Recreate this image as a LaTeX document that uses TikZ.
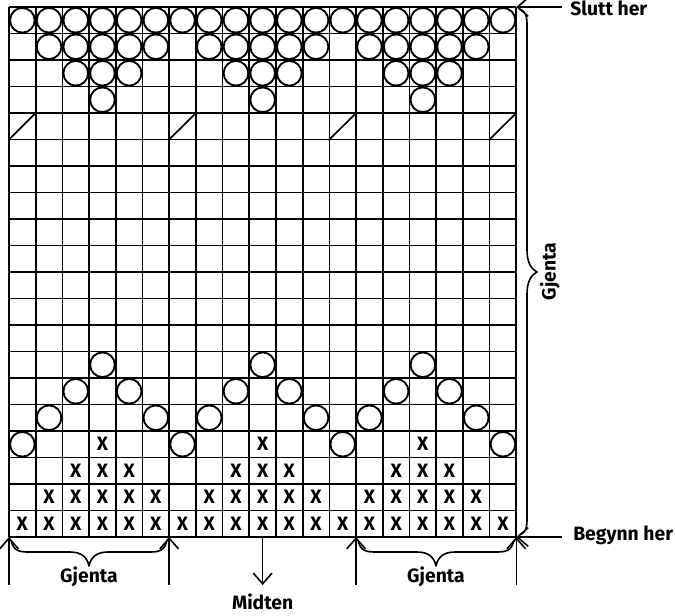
\documentclass[tikz,border=0pt]{standalone}
\usepackage{fontspec}
\setmainfont{Fira Sans}
\usetikzlibrary{arrows.meta}
\begin{document}
\begin{tikzpicture}[x=0.75pt,y=-0.75pt,
  gridline/.style={line width=1.3pt},
  ring/.style={circle,draw,line width=1.4pt,minimum size=18.5pt,inner sep=0pt},
  xmark/.style={font=\fontsize{14.5}{14.5}\selectfont\bfseries,inner sep=0pt},
  lbl/.style={font=\fontsize{14.5}{14.5}\selectfont\bfseries,inner sep=0pt},
  con/.style={line width=1.2pt},
  tip/.style={-{Straight Barb[length=8pt,width=14pt,line width=1.2pt]}},
  bracepath/.style={line width=1.2pt,line join=round}]
\useasboundingbox (0,0) rectangle (675,615);
\def\cw{26.7}\def\ch{26.5}
% cell centres
\foreach \r in {1,...,20}{
  \foreach \c in {1,...,19}{
    \coordinate (c-\r-\c) at ({9+(\c-0.5)*\cw},{7+(\r-0.5)*\ch});
  }
}
% corners
\coordinate (TL) at (9,7);
\coordinate (TR) at ({9+19*\cw},7);
\coordinate (BL) at (9,{7+20*\ch});
\coordinate (BR) at ({9+19*\cw},{7+20*\ch});
% grid
\foreach \c in {0,...,19}
  \draw[gridline] ({9+\c*\cw},7) -- ({9+\c*\cw},{7+20*\ch});
\foreach \r in {0,...,20}
  \draw[gridline] (9,{7+\r*\ch}) -- ({9+19*\cw},{7+\r*\ch});
% diagonals in row 5
\foreach \c in {1,7,13,19}
  \draw[gridline] ({9+(\c-1)*\cw},{7+5*\ch}) -- ({9+\c*\cw},{7+4*\ch});
% circles
\foreach \r/\cols in {1/{1,2,3,4,5,6,7,8,9,10,11,12,13,14,15,16,17,18,19},
                      2/{2,3,4,5,6,8,9,10,11,12,14,15,16,17,18},
                      3/{3,4,5,9,10,11,15,16,17},
                      4/{4,10,16},
                      14/{4,10,16},
                      15/{3,5,9,11,15,17},
                      16/{2,6,8,12,14,18},
                      17/{1,7,13,19}}{
  \foreach \c in \cols
    \node[ring] (o-\r-\c) at (c-\r-\c) {};
}
% crosses
\foreach \r/\cols in {17/{4,10,16},
                      18/{3,4,5,9,10,11,15,16,17},
                      19/{2,3,4,5,6,8,9,10,11,12,14,15,16,17,18},
                      20/{1,2,3,4,5,6,7,8,9,10,11,12,13,14,15,16,17,18,19}}{
  \foreach \c in \cols
    \node[xmark] (x-\r-\c) at (c-\r-\c) {X};
}
% top / bottom labels with arrows
\node[lbl,anchor=west] (slutt) at (570,8) {Slutt her};
\coordinate (sl) at (562,7);
\draw[con,tip] (sl) -- (TR);
\node[lbl,anchor=west] (begynn) at (573,535.5) {Begynn her};
\coordinate (bg) at (562,537);
\draw[con,tip] (bg) -- (BR);
% right brace
\draw[bracepath] (519,9) .. controls (526,11) and (527,16) .. (527,26) -- (527,250)
  .. controls (527,262) and (531,269) .. (537,272)
  .. controls (531,275) and (527,282) .. (527,294) -- (527,518)
  .. controls (527,528) and (526,533) .. (519,535);
\node[lbl,rotate=90] (gright) at (550,271.5) {Gjenta};
% bottom repeat markers
\coordinate (m0) at (BL);
\coordinate (m6) at ({9+6*\cw},{7+20*\ch});
\coordinate (m13) at ({9+13*\cw},{7+20*\ch});
\coordinate (m19) at (BR);
\coordinate (e0) at (9,585);
\coordinate (e6) at ({9+6*\cw},585);
\coordinate (e13) at ({9+13*\cw},585);
\coordinate (e19) at ({9+19*\cw},585);
\foreach \k in {0,6,13,19}
  \draw[con,tip] (e\k) -- (m\k);
% bottom braces
\draw[bracepath] (11,540) .. controls (13,550) and (18,552) .. (28,552) -- (70,552)
  .. controls (80,552) and (87,556) .. (89,566)
  .. controls (91,556) and (98,552) .. (108,552) -- (150,552)
  .. controls (160,552) and (165,550) .. (167,540);
\draw[bracepath] (358,540) .. controls (360,550) and (365,552) .. (375,552) -- (417,552)
  .. controls (427,552) and (434,556) .. (436,566)
  .. controls (438,556) and (445,552) .. (455,552) -- (497,552)
  .. controls (507,552) and (512,550) .. (514,540);
\node[lbl] (gleft) at (89,577) {Gjenta};
\node[lbl] (gright2) at (436,577) {Gjenta};
% centre marker
\coordinate (mc) at ({9+9.5*\cw},{7+20*\ch});
\coordinate (ec) at ({9+9.5*\cw},585);
\draw[con,tip] (mc) -- (ec);
\node[lbl] (midten) at ({9+9.5*\cw},601.5) {Midten};
\end{tikzpicture}
\end{document}
